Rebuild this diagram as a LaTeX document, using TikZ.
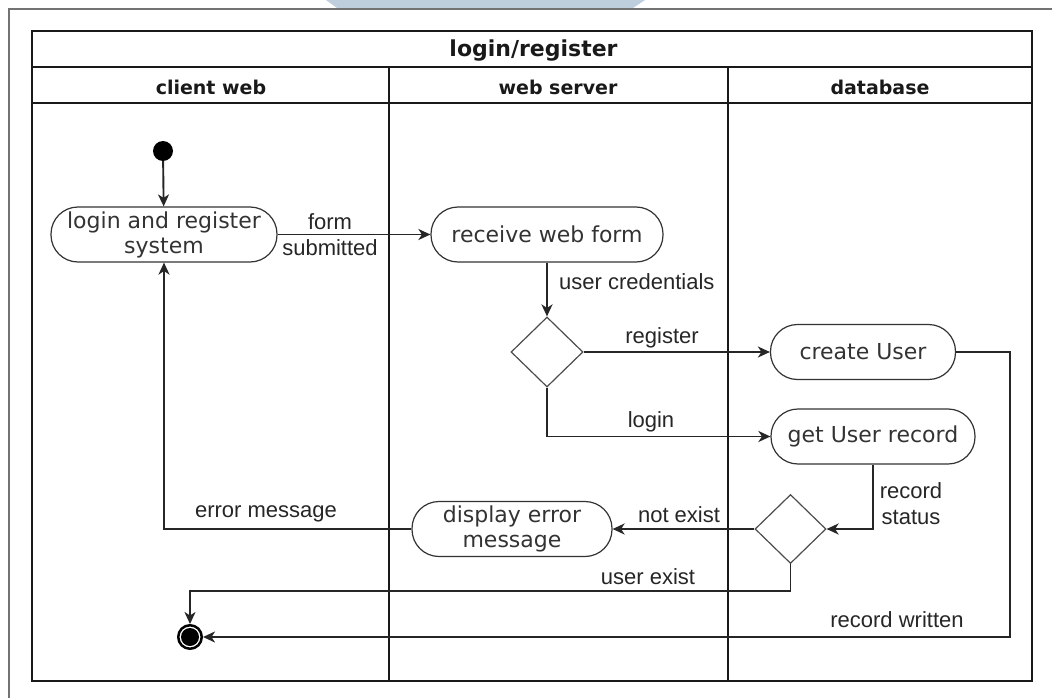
\documentclass[tikz,border=0pt]{standalone}
\usepackage{fontspec}
\setmainfont{Liberation Sans}
\newfontfamily\actfont{DejaVu Sans}
\usetikzlibrary{shapes.geometric,arrows.meta}
\definecolor{tabblue}{RGB}{191,206,220}

\begin{document}
\begin{tikzpicture}[x=1pt,y=-1pt,
  act/.style={draw=black!80, line width=1.2pt, rounded corners=27pt,
    minimum height=55pt, inner sep=0pt, align=center,
    font=\actfont\fontsize{22}{25}\selectfont, text=black!80},
  dec/.style={draw=black!70, line width=1.2pt, diamond, inner sep=0pt,
    minimum width=72pt, minimum height=70pt},
  flow/.style={line width=1.9pt, draw=black!85,
    -{Stealth[length=12pt,width=11pt,inset=3.5pt]}},
  lbl/.style={font=\fontsize{22}{26}\selectfont, text=black!85,
    align=center, inner sep=0pt},
  blbl/.style={lbl, anchor=base},
  hdr/.style={font=\actfont\bfseries\fontsize{19}{23}\selectfont,
    inner sep=0pt, anchor=base, text=black!90},
  lane/.style={line width=1.3pt, draw=black!90},
]
\useasboundingbox (0,0) rectangle (1052,698);

% page edge and tab
\fill[tabblue] (326,0) -- (645,0) -- (633,8) -- (337,8) -- cycle;
\draw[line width=1.5pt, black!55] (1052,9) -- (9,9) -- (9,698);

% swimlane frame
\draw[line width=2pt, black!90] (32,31) rectangle (1032,681);
\draw[line width=2pt, black!90] (32,67) -- (1032,67);
\draw[line width=2pt, black!90] (32,103) -- (1032,103);
\draw[lane] (389,67) -- (389,681);
\draw[lane] (728,67) -- (728,681);

\node[hdr, font=\actfont\bfseries\fontsize{22}{26}\selectfont] (title) at (533.5,57) {login/register};
\node[hdr] (laneA) at (211,95) {client web};
\node[hdr] (laneB) at (558,95) {web server};
\node[hdr] (laneC) at (880,95) {database};

% activities
\node[circle, fill=black, minimum size=20pt, inner sep=0pt] (start) at (163,151) {};
\node[act, minimum width=226pt] (login) at (164,234.5) {login and register\\system};
\node[act, minimum width=232pt] (recv) at (547,234.5) {receive web form};
\node[dec] (d1) at (547,352) {};
\node[act, minimum width=185pt] (create) at (863,352) {create User};
\node[act, minimum width=204pt] (getrec) at (873,436.5) {get User record};
\node[dec, minimum width=71pt, minimum height=69pt] (d2) at (790.5,529) {};
\node[act, minimum width=200pt] (err) at (512,529) {display error\\message};
\node[circle, draw=black, line width=2.5pt, minimum size=23.5pt, inner sep=0pt,
  path picture={\fill[black] (path picture bounding box.center) circle (9pt);}]
  (final) at (190,637) {};

\coordinate (ue) at (790.5,591);
\coordinate (rw) at (1010,637);

% flows
\draw[flow] (start) -- (login);
\draw[flow] (login) -- (recv);
\node[lbl] (lform) at (330,235) {form\\submitted};
\draw[flow] (recv) -- (d1);
\node[blbl, anchor=base west] (lcred) at (559,289) {user credentials};
\draw[flow] (d1) -- (create);
\node[blbl] (lreg) at (662,343) {register};
\draw[flow] (d1.south) |- (getrec.west);
\node[blbl] (llogin) at (651,427) {login};
\draw[flow] (getrec.south) |- (d2.east);
\node[lbl] (lstat) at (911,504) {record\\status};
\draw[flow] (d2.west) -- (err.east);
\node[blbl] (lnot) at (679,522) {not exist};
\draw[flow] (err.west) -| (login.south);
\node[blbl] (lerr) at (266,517) {error message};
\draw[flow] (d2.south) -- (ue) -| (final.north);
\node[blbl] (lexist) at (648,584) {user exist};
\draw[flow] (create.east) -| (rw) -- (final.east);
\node[blbl] (lwritten) at (897,627) {record written};
\end{tikzpicture}
\end{document}
